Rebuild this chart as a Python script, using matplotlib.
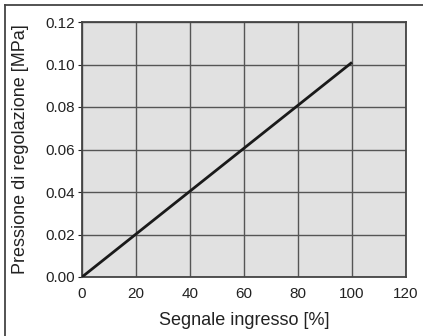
import matplotlib
matplotlib.use("Agg")
import matplotlib.pyplot as plt
from matplotlib.lines import Line2D

signal_pct = [0, 100]
pressure_mpa = [0.0, 0.101]
x_ticks = [0, 20, 40, 60, 80, 100, 120]
y_ticks = [0.00, 0.02, 0.04, 0.06, 0.08, 0.10, 0.12]
y_tick_labels = ["0.00", "0.02", "0.04", "0.06", "0.08", "0.10", "0.12"]

plt.rcParams['font.family'] = ['Liberation Sans', 'DejaVu Sans']

W, H = 423, 336
fig = plt.figure(figsize=(W / 100, H / 100), dpi=100)
fig.patch.set_facecolor("white")

left, right, top, bottom = 82, 406, 22, 277
ax = fig.add_axes([left / W, 1 - bottom / H, (right - left) / W, (bottom - top) / H])
ax.set_facecolor("#e1e1e1")

ax.plot(signal_pct, pressure_mpa, color="#1a1a1a", lw=2.0, solid_capstyle="butt", zorder=3)

ax.set_xlim(0, 120)
ax.set_ylim(0, 0.12)
ax.set_xticks(x_ticks)
ax.set_yticks(y_ticks)
ax.set_yticklabels(y_tick_labels)
ax.grid(True, color="#555555", lw=1.0)
ax.set_axisbelow(True)
for s in ax.spines.values():
    s.set_color("#444444")
    s.set_linewidth(1.3)

ax.tick_params(axis="both", labelsize=11, colors="#222222", length=3, width=0.8, direction="out")
ax.tick_params(axis="x", length=0, pad=7)
ax.tick_params(axis="y", pad=2)

fig.text((left + right) / 2 / W, 1 - 325 / H, "Segnale ingresso [%]", fontsize=13,
         color="#222222", ha="center", va="baseline")
fig.text(21 / W, 1 - (top + bottom) / 2 / H, "Pressione di regolazione [MPa]", fontsize=13,
         color="#222222", ha="center", va="center", rotation=90)

# partial frame (top and left lines)
fig.add_artist(Line2D([4.5 / W, 4.5 / W], [0, 1 - 5 / H], transform=fig.transFigure, color="#444444", lw=1.3))
fig.add_artist(Line2D([4.5 / W, 1], [1 - 5 / H, 1 - 5 / H], transform=fig.transFigure, color="#444444", lw=1.3))

fig.savefig("out.png", dpi=100)
